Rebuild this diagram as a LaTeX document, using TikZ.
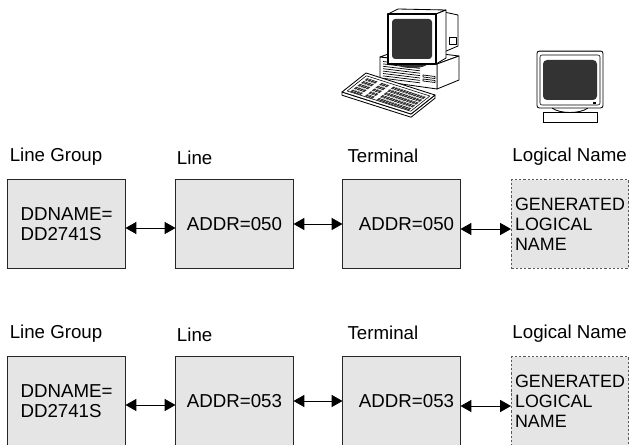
\documentclass[tikz,border=0pt]{standalone}
\usepackage{fontspec}
\setmainfont{Liberation Sans}
\usetikzlibrary{arrows.meta,positioning}
\definecolor{boxgray}{gray}{0.9}
\definecolor{screengray}{gray}{0.2}
\tikzset{
  unit/.style={draw=black!85, fill=boxgray, line width=0.7pt, minimum width=2.925cm,
    minimum height=2.2cm, inner sep=0pt, font=\fontsize{13.3}{14.2}\selectfont},
  lognm/.style={unit, draw=black!65, dash pattern=on 1.6pt off 1.4pt, align=left,
    font=\fontsize{12.7}{14.2}\selectfont},
  head/.style={anchor=base west, inner sep=0pt, font=\fontsize{13.3}{15}\selectfont},
  link/.style={{Triangle[length=0.27cm,width=0.3cm]}-{Triangle[length=0.27cm,width=0.3cm]},
    line width=0.7pt},
}

\begin{document}
\begin{tikzpicture}[x=0.025cm, y=-0.025cm]
  \useasboundingbox (0,0) rectangle (630,446);
  \clip (0,0) rectangle (630,444);
  % desktop: system unit
  \begin{scope}[line width=0.6pt, line join=round]
    \filldraw[fill=white] (380,57) -- (402,49) -- (459,56) -- (437,64) -- cycle;
    \filldraw[fill=white] (437,64) -- (459,56) -- (459,80) -- (437,89) -- cycle;
    \filldraw[fill=white] (380,57) -- (437,64) -- (437,89) -- (380,81) -- cycle;
    \foreach \v in {0,...,7}{\draw[line width=0.5pt] (383,61.5+2.4*\v) -- (420,66+2.4*\v);}
    \foreach \v in {0,1}{\filldraw[fill=white, line width=0.5pt] (423,75+4*\v) -- (435,76.5+4*\v) -- (435,78.5+4*\v) -- (423,77+4*\v) -- cycle;}
    % stand
    \fill[screengray] (412,64) ellipse (15 and 4);
    % monitor
    \filldraw[fill=white] (444,12) -- (458,15) -- (458,46) -- (444,52) -- cycle;
    \filldraw[fill=white] (449,37) rectangle (456,44);
    \filldraw[fill=white] (388,14) -- (398,9) -- (446,10) -- (436,14) -- cycle;
    \filldraw[fill=white] (436,14) -- (446,10) -- (446,58) -- (436,64) -- cycle;
    \filldraw[fill=white, line width=0.9pt] (388,14) rectangle (436,64);
    \fill[screengray, rounded corners=0.08cm] (392,19) rectangle (432,59);
  \end{scope}
  % desktop: keyboard
  \begin{scope}[shift={(366,73)}, x={(1.725cm,-0.55cm)}, y={(-0.6cm,-0.475cm)}, line width=0.6pt, line join=round]
    \filldraw[fill=white] (0,1) -- (1,1) -- (1,0) -- ([yshift=-0.08cm]1,0) -- ([yshift=-0.08cm]1,1) -- ([yshift=-0.08cm]0,1) -- cycle;
    \filldraw[fill=white] (0,0) -- (1,0) -- (1,1) -- (0,1) -- cycle;
    \draw[line width=0.4pt] (0.04,0.1) -- (0.96,0.1) -- (0.96,0.9) -- (0.04,0.9) -- cycle;
    \foreach \v in {0.18,0.33,0.48,0.63,0.78}{
      \foreach \u in {0.08,0.12,0.16,0.20}{\fill[screengray] (\u,\v) -- ++(0.03,0) -- ++(0,0.11) -- ++(-0.03,0) -- cycle;}
      \foreach \u in {0.29,0.33,0.37}{\fill[screengray] (\u,\v) -- ++(0.03,0) -- ++(0,0.11) -- ++(-0.03,0) -- cycle;}
      \foreach \u in {0.46,0.50,...,0.90}{\fill[screengray] (\u,\v) -- ++(0.03,0) -- ++(0,0.11) -- ++(-0.03,0) -- cycle;}
    }
  \end{scope}
  % terminal
  \begin{scope}[line width=0.6pt]
    \draw (552,108) .. controls (560,114) and (580,114) .. (588,108);
    \filldraw[fill=white] (543,112) rectangle (597,122);
    \filldraw[fill=white, rounded corners=0.06cm] (537,51) rectangle (603,108);
    \draw[line width=1.4pt, black!70] (539,51.5) -- (601,51.5);
    \draw[rounded corners=0.05cm, line width=0.4pt] (540,55) rectangle (600,105);
    \fill[screengray, rounded corners=0.1cm] (543,60) rectangle (597,100);
    \fill (593,102.5) rectangle (596,104.5);
  \end{scope}
  % two rows of units
  \foreach \addr [count=\r] in {050,053}{
    \pgfmathsetmacro{\y}{224+(\r-1)*177}
    \node[unit, align=left] (lg\r) at (66.5,\y) {DDNAME=\\DD2741S};
    \node[unit] (ln\r) at (234.5,\y) {ADDR=\addr};
    \node[unit] (tm\r) at (401.5,\y) {\hspace{0.25cm}ADDR=\addr};
    \node[lognm] (lname\r) at (570,\y) {GENERATED\\LOGICAL\\NAME};
    % headings
    \node[head, xshift=0.05cm, yshift=0.45cm] (lgh\r) at (lg\r.north west) {Line Group};
    \node[head, xshift=0.03cm, yshift=0.375cm] (lnh\r) at (ln\r.north west) {Line};
    \node[head, xshift=0.12cm, yshift=0.42cm] (tmh\r) at (tm\r.north west) {Terminal};
    \node[head, xshift=0.03cm, yshift=0.46cm] (lnameh\r) at (lname\r.north west) {Logical Name};
    % links
    \draw[link] ([yshift=-0.1cm]lg\r.east) -- ([yshift=-0.1cm]ln\r.west);
    \draw[link] (ln\r.east) -- (tm\r.west);
    \draw[link] ([yshift=-0.125cm]tm\r.east) -- ([yshift=-0.125cm]lname\r.west);
  }
\end{tikzpicture}
\end{document}
